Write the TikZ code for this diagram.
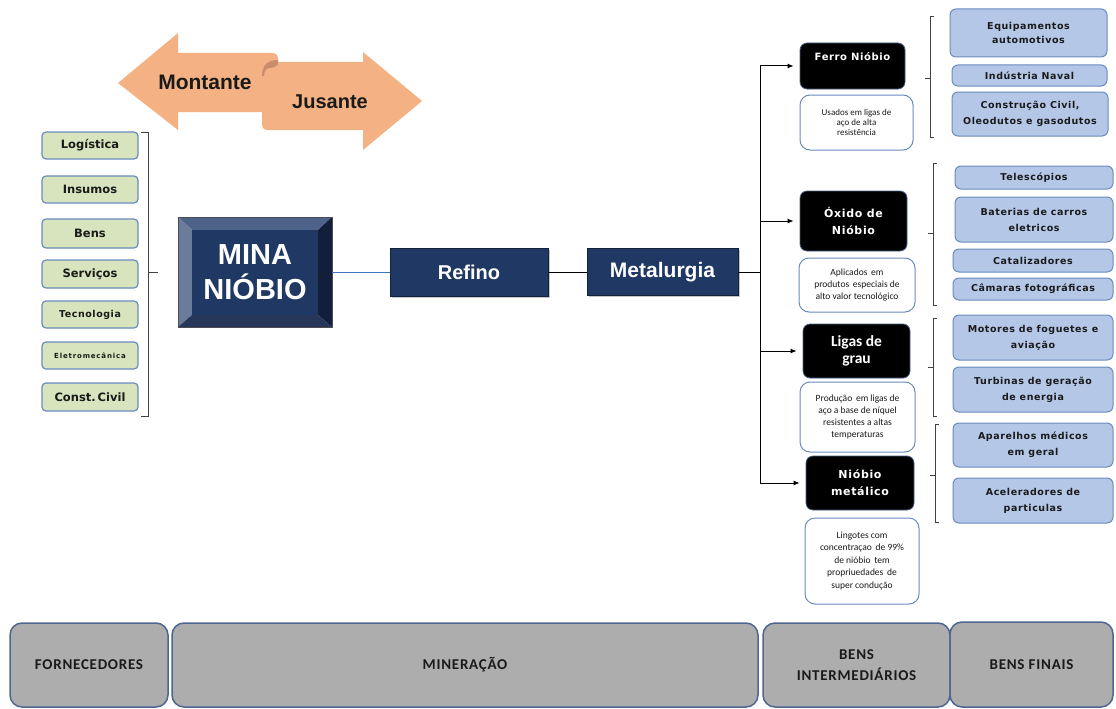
\documentclass[tikz,border=0pt]{standalone}
\usepackage{fontspec}
\usetikzlibrary{arrows.meta,shadows}

% type faces
\newfontfamily\dvsans{DejaVu Sans}
\newfontfamily\dvwide{DejaVu Sans}[LetterSpace=6]
\newfontfamily\dvwider{DejaVu Sans}[LetterSpace=12]
\newfontfamily\arial{Liberation Sans}
\newfontfamily\calib{Carlito}
\newfontfamily\calibwide{Carlito}[LetterSpace=5]
\newcommand\setfs[2]{\fontsize{#1}{#2}\selectfont}

% palette
\definecolor{salmon}{HTML}{F4B183}
\definecolor{curl}{HTML}{C98C6C}
\definecolor{navy}{HTML}{1F3864}
\definecolor{bevtop}{HTML}{4D6389}
\definecolor{bevleft}{HTML}{6B7C9B}
\definecolor{bevright}{HTML}{131E3A}
\definecolor{bevbottom}{HTML}{26375A}
\definecolor{supgreen}{HTML}{D7E4BD}
\definecolor{uselav}{HTML}{B4C7E7}
\definecolor{boxedge}{HTML}{6A8BBE}
\definecolor{stagegray}{HTML}{ADADAD}
\definecolor{stageedge}{HTML}{4F6690}
\definecolor{bracketgray}{HTML}{404040}
\definecolor{linkblue}{HTML}{4472C4}
\definecolor{ink}{HTML}{1A1A1A}

\tikzset{
  supbox/.style={draw=boxedge, fill=supgreen, rounded corners=4pt, line width=1.2pt,
    minimum width=96pt, minimum height=27pt, inner sep=0pt, text=ink,
    font=\dvsans\bfseries\setfs{11.5}{13}},
  usebox/.style={draw=boxedge, fill=uselav, rounded corners=6pt, line width=1pt,
    minimum width=158pt, inner sep=0pt, align=center, text=ink,
    font=\dvwide\bfseries\setfs{9.5}{16}},
  prodbox/.style={fill=black, draw=boxedge!70!black, rounded corners=7pt, line width=0.8pt,
    text=white, inner sep=0pt, align=center,
    font=\dvwide\bfseries\setfs{11}{17}},
  descbox/.style={fill=white, draw=boxedge, rounded corners=10pt, line width=1pt,
    inner sep=0pt, align=center, text=ink, font=\calib\setfs{9.5}{12}},
  chainbox/.style={fill=navy, draw=navy!60!black, line width=0.8pt, inner sep=0pt,
    text=white, font=\arial\bfseries\setfs{20}{24},
    drop shadow={shadow xshift=1.5pt, shadow yshift=-1.5pt, fill=black!45}},
  stagebox/.style={fill=stagegray, draw=stageedge, rounded corners=12pt, line width=1.5pt,
    inner sep=0pt, align=center, text=ink, font=\calibwide\bfseries\setfs{15}{21}},
  bracket/.style={draw=bracketgray, line width=1pt},
  link/.style={draw=black, line width=1pt},
  flow/.style={link, -{Latex[length=6pt,width=5pt]}, shorten >=6pt}
}

\begin{document}
\begin{tikzpicture}[x=1pt,y=-1pt]
\useasboundingbox (0,0) rectangle (1116,709);

% ---- upstream / downstream arrows ----
\fill[salmon] (118,83) -- (178,33) -- (178,53) -- (272,53)
  .. controls (276,53) and (278,55) .. (278,59) -- (278,112) -- (178,112)
  -- (178,130) -- cycle;
\fill[salmon] (262,124) -- (262,72) .. controls (262,66) and (266,62) .. (272,62)
  -- (363,62) -- (363,52) -- (422,101) -- (363,150) -- (363,130) -- (268,130)
  .. controls (264,130) and (262,128) .. (262,124) -- cycle;
% rolled edge where the two banners meet
\fill[curl] (262,76) .. controls (262,65) and (268,60) .. (278,60)
  -- (278,64) .. controls (276,67) and (273,68) .. (270,68)
  .. controls (266,68) and (264,71) .. (264,76) -- cycle;
\node[font=\arial\bfseries\setfs{21}{24}, text=ink] (montante) at (205,82) {Montante};
\node[font=\arial\bfseries\setfs{20}{24}, text=ink] (jusante) at (330,102) {Jusante};

% ---- suppliers ----
\node[supbox] (logistica) at (90,145.5) {Logística};
\node[supbox] (insumos) at (90,189.5) {Insumos};
\node[supbox, minimum height=29pt] (bens) at (90,233.5) {Bens};
\node[supbox, minimum height=28pt] (servicos) at (90,274) {Serviços};
\node[supbox, font=\dvwide\bfseries\setfs{9.5}{11}] (tecnologia) at (90,314.5) {Tecnologia};
\node[supbox, font=\dvwider\bfseries\setfs{7}{8}] (eletro) at (90,355.5) {Eletromecânica};
\node[supbox, minimum height=28pt] (constcivil) at (90,397) {Const.\,Civil};

\draw[bracket] (141,132) -- (148,132) -- (148,416) -- (141,416);
\draw[bracket] (148,272) -- (158,272);

% ---- mine ----
\fill[bevtop] (178,217) -- (332,217) -- (318,230) -- (192,230) -- cycle;
\fill[bevleft] (178,217) -- (192,230) -- (192,315) -- (178,327) -- cycle;
\fill[bevright] (332,217) -- (332,327) -- (318,315) -- (318,230) -- cycle;
\fill[bevbottom] (178,327) -- (332,327) -- (318,315) -- (192,315) -- cycle;
\fill[navy] (192,230) rectangle (318,315);
\draw[black!70, line width=0.6pt] (178,217) rectangle (332,327);
\node[minimum width=154pt, minimum height=110pt, inner sep=0pt, align=center,
  text=white, font=\arial\bfseries\setfs{29}{35}] (mina) at (255,272) {MINA\\NIÓBIO};

% ---- processing chain ----
\node[chainbox, minimum width=158pt, minimum height=48pt] (refino) at (469,272) {Refino};
\node[chainbox, minimum width=151pt, minimum height=47pt, font=\arial\bfseries\setfs{21}{24}]
  (metal) at (662.5,272) {Metalurgia};

\draw[linkblue, line width=1pt] (mina.east) -- (refino.west);
\draw[link] (refino.east) -- (metal.west);

% ---- intermediate products ----
\node[prodbox, minimum width=105pt, text height=10pt, text depth=22pt, inner ysep=7pt,
  font=\dvwide\bfseries\setfs{10}{12}] (ferro) at (852.5,66) {Ferro Nióbio};
\node[descbox, minimum width=113pt, minimum height=55pt, font=\calib\setfs{9}{10}]
  (ferrod) at (856.5,122.5) {Usados em ligas de\\aço de alta\\resistência};

\node[prodbox, minimum width=107pt, minimum height=60pt] (oxido) at (853.5,221) {Óxido de\\Nióbio};
\node[descbox, minimum width=116pt, minimum height=54pt] (oxidod) at (857,285)
  {Aplicados\, em\\produtos\, especiais de\\alto valor tecnológico};

\node[prodbox, minimum width=107pt, minimum height=54pt, font=\calib\bfseries\setfs{15.5}{17}]
  (ligas) at (856.5,351) {Ligas de\\grau};
\node[descbox, minimum width=115pt, minimum height=70pt] (ligasd) at (857.5,417)
  {Produção\, em ligas de\\aço a base de níquel\\resistentes a altas\\temperaturas};

\node[prodbox, minimum width=108pt, minimum height=54pt] (niobio) at (860,483) {Nióbio\\metálico};
\node[descbox, minimum width=114pt, minimum height=86pt, font=\calib\setfs{9.5}{12.5}]
  (niobiod) at (862,561)
  {Lingotes com\\concentraçao\, de 99\%\\de nióbio\, tem\\propriuedades\, de\\super condução};

\coordinate (trunk) at (760,0);
\draw[link] (metal.east) -- (metal.east -| trunk);
\draw[link] (ferro.west -| trunk) -- (niobio.west -| trunk);
\foreach \p in {ferro,oxido,ligas,niobio}
  \draw[flow] (\p.west -| trunk) -- (\p.west);

% ---- final uses ----
\node[usebox, minimum width=157pt, minimum height=48pt, font=\dvwide\bfseries\setfs{9.5}{14}]
  (equip) at (1028.5,33) {Equipamentos\\automotivos};
\node[usebox, minimum width=155pt, minimum height=21pt] (naval) at (1029.5,75.5) {Indústria Naval};
\node[usebox, minimum width=156pt, minimum height=44pt] (constr) at (1030,114)
  {Construção Civil,\\Oleodutos e gasodutos};

\node[usebox, minimum height=23pt] (telesc) at (1034,177.5) {Telescópios};
\node[usebox, minimum height=45pt] (bateria) at (1034,219.5) {Baterias de carros\\eletricos};
\node[usebox, minimum width=160pt, minimum height=23pt] (catal) at (1033,260.5) {Catalizadores};
\node[usebox, minimum width=160pt, minimum height=22pt] (camara) at (1033,289) {Câmaras fotográficas};

\node[usebox, minimum width=160pt, minimum height=45pt] (motor) at (1033,337.5) {Motores de foguetes e\\aviação};
\node[usebox, minimum width=160pt, minimum height=45pt] (turbina) at (1033,389.5) {Turbinas de geração\\de energia};
\node[usebox, minimum width=160pt, minimum height=44pt] (aparelho) at (1033,445) {Aparelhos médicos\\em geral};
\node[usebox, minimum width=160pt, minimum height=45pt] (acel) at (1033,500.5) {Aceleradores de\\particulas};

\draw[bracket] (934,17) -- (930,17) -- (930,137) -- (934,137);
\draw[bracket] (930,78) -- (925,78);
\draw[bracket] (937,163) -- (933,163) -- (933,305) -- (937,305);
\draw[bracket] (933,233) -- (928,233);
\draw[bracket] (937,318) -- (933,318) -- (933,416) -- (937,416);
\draw[bracket] (933,367) -- (928,367);
\draw[bracket] (939,424) -- (935,424) -- (935,522) -- (939,522);
\draw[bracket] (935,475) -- (930,475);

% ---- value chain stages ----
\node[stagebox, minimum width=158pt, minimum height=84pt] (fornec) at (89,665) {FORNECEDORES};
\node[stagebox, minimum width=586pt, minimum height=84pt] (minera) at (465,665) {MINERAÇÃO};
\node[stagebox, minimum width=187pt, minimum height=84pt] (intermed) at (856.5,665) {BENS\\INTERMEDIÁRIOS};
\node[stagebox, minimum width=163pt, minimum height=85pt] (finais) at (1031.5,664.5) {BENS FINAIS};

\end{tikzpicture}
\end{document}
